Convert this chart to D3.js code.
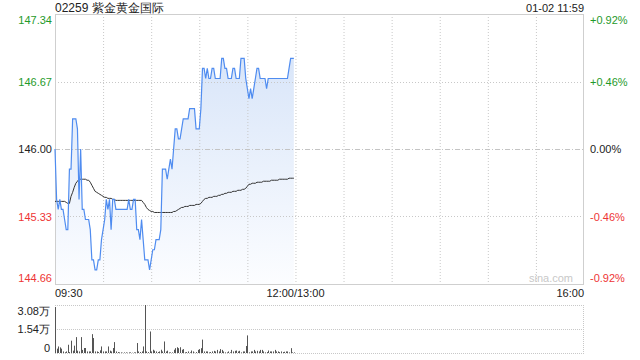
<!DOCTYPE html>
<html><head><meta charset="utf-8">
<script src="https://cdn.jsdelivr.net/npm/d3@7/dist/d3.min.js"></script>
<style>
html,body{margin:0;padding:0;background:#fff;}
svg{display:block;font-family:"Liberation Sans",Arial,sans-serif;}
</style></head>
<body>
<svg id="c" width="640" height="360"></svg>
<script>
const title = "02259 紫金黄金国际";
const stamp = "01-02 11:59";
const prevClose = 146.00;
const priceTicks = [147.34, 146.67, 146.00, 145.33, 144.66];
const pctLabels = ["+0.92%", "+0.46%", "0.00%", "-0.46%", "-0.92%"];
const timeTicks = [0, 150, 330];
const timeLabels = ["09:30", "12:00/13:00", "16:00"];
const gridMinutes = [30, 60, 90, 120, 150, 180, 210, 240, 270, 300];
const volTicks = [3.08, 1.54, 0];
const volLabels = ["3.08万", "1.54万", "0"];

// per-minute price from 09:30
const price = [
 146.0,145.5,145.4,145.5,145.4,145.4,145.3,145.2,145.2,145.8,
 145.8,146.3,146.3,146.3,146.2,145.5,146.0,145.4,145.4,145.3,
 145.3,145.3,145.2,144.9,144.9,144.8,144.8,144.9,144.9,145.1,
 145.2,145.3,145.5,145.4,145.5,145.2,145.5,145.5,145.4,145.4,
 145.4,145.4,145.4,145.4,145.4,145.4,145.5,145.4,145.4,145.5,
 145.5,145.2,145.2,145.1,145.3,145.1,144.9,144.9,144.9,144.8,
 144.9,145.0,145.0,145.1,145.1,145.1,145.2,145.8,145.8,145.8,
 145.7,145.8,145.9,145.8,146.0,146.2,146.2,146.1,146.1,146.2,
 146.3,146.3,146.3,146.3,146.4,146.4,146.4,146.4,146.2,146.2,
 146.2,146.4,146.8,146.8,146.7,146.8,146.7,146.7,146.8,146.8,
 146.7,146.7,146.7,146.7,146.9,146.9,146.8,146.8,146.7,146.7,
 146.7,146.8,146.8,146.7,146.7,146.7,146.9,146.9,146.9,146.7,
 146.6,146.5,146.6,146.5,146.6,146.7,146.8,146.8,146.7,146.7,
 146.7,146.7,146.6,146.7,146.7,146.7,146.7,146.7,146.7,146.7,
 146.7,146.7,146.7,146.7,146.7,146.7,146.8,146.9,146.9,146.9
];
// per-minute average price
const avgPrice = [
 145.48,145.48,145.48,145.48,145.48,145.48,145.48,145.47,145.46,145.46,
 145.53,145.57,145.62,145.66,145.68,145.70,145.70,145.70,145.70,145.70,
 145.69,145.69,145.67,145.64,145.61,145.58,145.57,145.56,145.55,145.54,
 145.53,145.52,145.52,145.51,145.51,145.51,145.50,145.50,145.49,145.49,
 145.49,145.49,145.49,145.49,145.49,145.49,145.49,145.49,145.49,145.49,
 145.49,145.49,145.49,145.49,145.49,145.47,145.45,145.42,145.40,145.39,
 145.38,145.38,145.37,145.37,145.37,145.37,145.37,145.37,145.37,145.37,
 145.37,145.37,145.37,145.37,145.38,145.38,145.39,145.40,145.41,145.42,
 145.42,145.43,145.43,145.43,145.44,145.44,145.44,145.44,145.45,145.45,
 145.45,145.46,145.48,145.50,145.51,145.51,145.52,145.52,145.52,145.53,
 145.53,145.53,145.54,145.54,145.55,145.55,145.56,145.56,145.57,145.57,
 145.57,145.58,145.58,145.58,145.59,145.59,145.59,145.60,145.60,145.61,
 145.63,145.65,145.65,145.66,145.66,145.66,145.67,145.67,145.67,145.67,
 145.68,145.68,145.68,145.68,145.68,145.69,145.69,145.69,145.69,145.69,
 145.70,145.70,145.70,145.70,145.70,145.70,145.71,145.71,145.71,145.71
];
// per-minute volume (万)
const volume = [
 2.95,0.28,0.42,0.36,0.28,0.10,0.05,0.10,0.53,0.06,
 0.79,0.15,0.47,1.02,0.15,0.10,1.02,0.20,0.32,0.32,
 0.10,0.10,0.10,1.21,0.96,0.10,0.10,0.06,0.17,0.42,
 0.10,0.10,0.10,0.42,0.15,0.10,0.32,0.70,0.10,0.06,
 0.04,0.04,0.02,0.04,0.04,0.02,0.04,0.04,0.02,0.04,
 0.04,0.64,0.10,0.06,0.10,0.42,3.08,0.10,0.06,1.38,
 0.10,0.21,0.15,0.10,0.06,0.10,0.21,0.10,0.74,0.10,
 0.15,0.04,0.04,0.04,0.21,0.31,0.37,0.31,0.37,0.21,
 0.25,0.04,0.06,0.10,0.04,0.16,0.10,0.02,0.06,0.20,
 0.25,0.31,0.86,0.10,0.10,0.10,0.04,0.06,0.10,0.14,
 0.10,0.20,0.10,0.25,0.20,0.10,0.04,0.04,0.10,0.04,
 0.20,0.10,0.14,0.16,0.10,0.14,0.04,0.10,0.10,0.45,
 1.13,0.04,0.10,0.10,0.20,0.10,0.14,0.10,0.20,0.20,
 0.10,0.04,0.06,0.16,0.10,0.10,0.10,0.20,0.10,0.10,
 0.06,0.10,0.06,0.08,0.10,0.10,0.04,0.31,0.04,0.04
];

const L = 55, R = 584, T = 14, B = 284;
const VT = 305, VB = 353;
const GREEN = "#1f9a2b", RED = "#ee3535", DARK = "#222";
const svg = d3.select("#c");
const x = d3.scaleLinear().domain([0, 330]).range([L, R]);
const y = d3.scaleLinear().domain([144.66, 147.34]).range([B, T]);
const vy = d3.scaleLinear().domain([0, 3.08]).range([VB, VT]);
const colorFor = v => v > prevClose + 1e-9 ? GREEN : (v < prevClose - 1e-9 ? RED : DARK);

const defs = svg.append("defs");
const g = defs.append("linearGradient").attr("id","fillg")
  .attr("gradientUnits","userSpaceOnUse").attr("x1",0).attr("x2",0).attr("y1",T).attr("y2",B);
g.append("stop").attr("offset","0").attr("stop-color","#d2e1f8");
g.append("stop").attr("offset","1").attr("stop-color","#fcfdff");

// title
svg.append("text").attr("x", L).attr("y", 12).attr("font-size", 12).attr("fill", "#222").text(title);
svg.append("text").attr("x", R).attr("y", 12).attr("font-size", 11).attr("fill", "#222").attr("text-anchor","end").text(stamp);

// area
const idx = d3.range(price.length);
svg.append("path").datum(idx)
  .attr("d", d3.area().x(i => x(i)).y0(B).y1(i => y(price[i])))
  .attr("fill", "url(#fillg)");

// grid
svg.append("g").selectAll("line").data(gridMinutes).join("line")
  .attr("x1", d => x(d) + 0.5).attr("x2", d => x(d) + 0.5).attr("y1", T).attr("y2", B)
  .attr("stroke", "#c8c8c8").attr("stroke-dasharray", "1,2");
svg.append("g").selectAll("line").data([priceTicks[1], priceTicks[3]]).join("line")
  .attr("x1", L).attr("x2", R).attr("y1", d => Math.round(y(d)) + 0.5).attr("y2", d => Math.round(y(d)) + 0.5)
  .attr("stroke", "#c8c8c8").attr("stroke-dasharray", "1,2");
svg.append("line").attr("x1", L).attr("x2", R)
  .attr("y1", Math.round(y(prevClose)) + 0.5).attr("y2", Math.round(y(prevClose)) + 0.5)
  .attr("stroke", "#c4c4c4").attr("stroke-dasharray", "5,2,1,2");

// border
svg.append("rect").attr("x", L + 0.5).attr("y", T + 0.5).attr("width", R - L - 1).attr("height", B - T)
  .attr("fill", "none").attr("stroke", "#cfcfcf");

// watermark
svg.append("text").attr("x", R - 11).attr("y", B - 2).attr("font-size", 11).attr("fill", "#c8c8c8")
  .attr("text-anchor", "end").text("sina.com");

// avg line
svg.append("path").datum(idx)
  .attr("d", d3.line().x(i => x(i)).y(i => y(avgPrice[i])))
  .attr("fill", "none").attr("stroke", "#333").attr("stroke-width", 1);
// price line
svg.append("path").datum(idx)
  .attr("d", d3.line().x(i => x(i)).y(i => y(price[i])))
  .attr("fill", "none").attr("stroke", "#4f8cf0").attr("stroke-width", 1.2);

// left labels
const labelY = (d, i) => {
  const yy = y(d);
  if (i === 0) return yy + 10;
  if (i === priceTicks.length - 1) return yy - 2;
  return yy + 4;
};
svg.append("g").selectAll("text").data(priceTicks).join("text")
  .attr("x", 52).attr("y", labelY).attr("text-anchor", "end").attr("font-size", 11)
  .attr("fill", d => colorFor(d)).text(d => d.toFixed(2));
svg.append("g").selectAll("text").data(priceTicks).join("text")
  .attr("x", 590).attr("y", labelY).attr("font-size", 11)
  .attr("fill", d => colorFor(d)).text((d, i) => pctLabels[i]);

// time labels
svg.append("g").selectAll("text").data(timeTicks).join("text")
  .attr("x", d => x(d)).attr("y", 297).attr("font-size", 11).attr("fill", "#222")
  .attr("text-anchor", (d, i) => i === 0 ? "start" : (i === timeTicks.length - 1 ? "end" : "middle"))
  .text((d, i) => timeLabels[i]);

// volume grid
svg.append("g").selectAll("line").data([3.08, 1.54]).join("line")
  .attr("x1", L).attr("x2", R).attr("y1", d => Math.round(vy(d)) + 0.5).attr("y2", d => Math.round(vy(d)) + 0.5)
  .attr("stroke", "#c8c8c8").attr("stroke-dasharray", "1,1");
svg.append("line").attr("x1", L).attr("x2", R).attr("y1", VB + 0.5).attr("y2", VB + 0.5)
  .attr("stroke", "#c8c8c8").attr("stroke-dasharray", "1,1");
svg.append("line").attr("x1", R - 0.5).attr("x2", R - 0.5).attr("y1", VT).attr("y2", VB)
  .attr("stroke", "#c8c8c8").attr("stroke-dasharray", "1,1");

// volume bars
svg.append("g").selectAll("rect").data(idx).join("rect")
  .attr("x", i => Math.round(x(i)))
  .attr("width", 1)
  .attr("y", i => vy(volume[i]))
  .attr("height", i => VB - vy(volume[i]))
  .attr("fill", "#555");

// volume labels
svg.append("g").selectAll("text").data(volTicks).join("text")
  .attr("x", 50).attr("y", (d, i) => i === 0 ? vy(d) + 10 : (i === volTicks.length - 1 ? vy(d) - 1 : vy(d) + 4))
  .attr("text-anchor", "end").attr("font-size", 11).attr("fill", "#222")
  .text((d, i) => volLabels[i]);
</script>
</body></html>
